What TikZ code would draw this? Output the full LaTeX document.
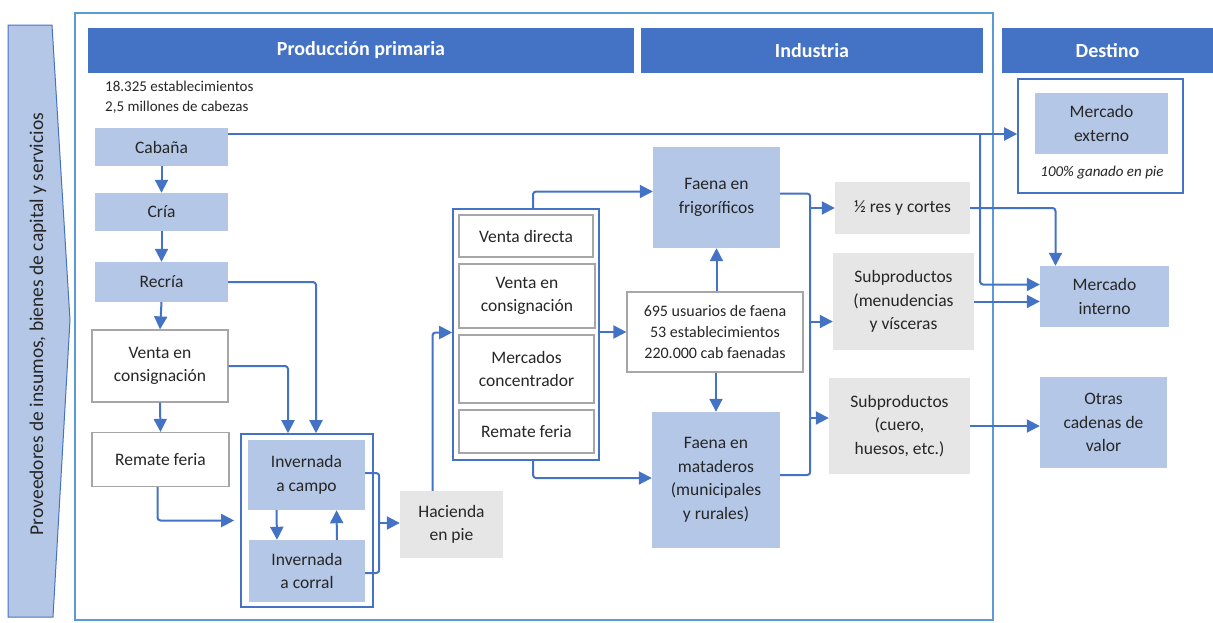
\documentclass[tikz,border=0pt]{standalone}
\usepackage{fontspec}
\setmainfont{Carlito}
\usetikzlibrary{arrows.meta}
\definecolor{azuloscuro}{HTML}{4472C4}
\definecolor{azulclaro}{HTML}{B4C7E7}
\definecolor{grisclaro}{HTML}{E7E6E6}
\definecolor{marco}{HTML}{5B9BD5}
\definecolor{borde}{HTML}{A6A6A6}

\begin{document}
\begin{tikzpicture}[
    x=1pt, y=-1pt,
    every node/.style={align=center, inner sep=2pt, text=black!85, font=\fontsize{17.5}{23.5}\selectfont},
    cabecera/.style={fill=azuloscuro, text=white, font=\fontsize{20}{24}\selectfont\bfseries, minimum height=45pt},
    azul/.style={fill=azulclaro},
    gris/.style={fill=grisclaro},
    blanco/.style={draw=borde, fill=white, line width=1.2pt},
    marcoazul/.style={draw=azuloscuro, fill=white, line width=1.6pt},
    linea/.style={draw=azuloscuro, line width=2pt, rounded corners=3pt},
    flecha/.style={linea, -{Triangle[length=13pt,width=13pt]}}
]
\useasboundingbox (0,0) rectangle (1213,622);
\draw[marco, line width=1.6pt] (75,13) rectangle (993,620);
\draw[draw=azuloscuro, fill=azulclaro, line width=1pt] (8,25) -- (52,25) -- (70,320) -- (53,617) -- (8,617) -- cycle;
\node[rotate=90, font=\fontsize{19.5}{22}\selectfont] (proveedores) at (38,324) {Proveedores de insumos, bienes de capital y servicios};

\node[cabecera, minimum width=546pt] (hprod) at (361,50.5) {Producción primaria};
\node[cabecera, minimum width=342pt] (hind) at (812,50.5) {Industria};
\node[cabecera, minimum width=211pt] (hdest) at (1107.5,50.5) {Destino};
\node[anchor=west, align=left, font=\fontsize{15}{20}\selectfont] (datos) at (103,97) {18.325 establecimientos\\2,5 millones de cabezas};

\node[azul, minimum width=133pt, minimum height=38pt] (cabana) at (161.5,147) {Cabaña};
\node[azul, minimum width=133pt, minimum height=38pt] (cria) at (161.5,212) {Cría};
\node[azul, minimum width=133pt, minimum height=40pt] (recria) at (161.5,282) {Recría};
\node[blanco, minimum width=136pt, minimum height=72pt] (venta1) at (160,366) {Venta en\\consignación};
\node[blanco, minimum width=137pt, minimum height=54pt] (remate1) at (160.5,459.5) {Remate feria};

\node[marcoazul, minimum width=132pt, minimum height=173pt] (invmarco) at (307,520.5) {};
\node[azul, minimum width=117pt, minimum height=70pt] (campo) at (306.5,475) {Invernada\\a campo};
\node[azul, minimum width=116pt, minimum height=62pt] (corral) at (307,571) {Invernada\\a corral};
\node[gris, minimum width=103pt, minimum height=67pt] (hacienda) at (451.5,524.5) {Hacienda\\en pie};

\node[marcoazul, minimum width=146pt, minimum height=251pt] (canales) at (526,334.5) {};
\node[blanco, minimum width=134pt, minimum height=42pt] (vdirecta) at (526,236) {Venta directa};
\node[blanco, minimum width=136pt, minimum height=64pt] (venta2) at (527,296) {Venta en\\consignación};
\node[blanco, minimum width=135pt, minimum height=68pt] (mercados) at (526.5,369) {Mercados\\concentrador};
\node[blanco, minimum width=135pt, minimum height=43pt] (remate2) at (526.5,431.5) {Remate feria};

\node[azul, minimum width=127pt, minimum height=101pt] (frigo) at (716.5,197.5) {Faena en\\frigoríficos};
\node[blanco, minimum width=176pt, minimum height=80pt, font=\fontsize{16}{21}\selectfont] (info) at (715,332) {695 usuarios de faena\\53 establecimientos\\220.000 cab faenadas};
\node[azul, minimum width=128pt, minimum height=136pt] (matad) at (716,480) {Faena en\\mataderos\\(municipales\\y rurales)};

\node[gris, minimum width=135pt, minimum height=52pt] (media) at (902.5,208) {½ res y cortes};
\node[gris, minimum width=141pt, minimum height=97pt] (menud) at (903.5,301.5) {Subproductos\\(menudencias\\y vísceras};
\node[gris, minimum width=141pt, minimum height=96pt] (cuero) at (899.5,426) {Subproductos\\(cuero,\\huesos, etc.)};

\node[marcoazul, minimum width=165pt, minimum height=114pt] (extmarco) at (1100.5,136) {};
\node[azul, minimum width=133pt, minimum height=61pt] (externo) at (1101.5,123.5) {Mercado\\externo};
\node[font=\fontsize{15}{18}\selectfont\itshape] (nota) at (1102,173) {100\% ganado en pie};
\node[azul, minimum width=129pt, minimum height=61pt] (interno) at (1104.5,296.5) {Mercado\\interno};
\node[azul, minimum width=127pt, minimum height=91pt] (otras) at (1103.5,422.5) {Otras\\cadenas de\\valor};

\draw[flecha] (cabana.south) -- (cria.north);
\draw[flecha] (cria.south) -- (recria.north);
\draw[flecha] (recria.south) -- (venta1.north);
\draw[flecha] (venta1.south) -- (remate1.north);
\draw[flecha] (recria.east) -| ([xshift=9pt]invmarco.north);
\draw[flecha] (venta1.east) -| ([xshift=-19pt]invmarco.north);
\draw[flecha, shorten >=6pt] ([xshift=-3pt]remate1.south) |- (invmarco.west);
\draw[flecha] ([xshift=-30pt]campo.south) -- ([xshift=-30pt]corral.north);
\draw[flecha] ([xshift=30pt]corral.north) -- ([xshift=30pt]campo.south);
\draw[linea] ([yshift=2pt]campo.east) -- ++(14,0) |- ([yshift=-2pt]corral.east);
\coordinate (invsal) at (379,523);
\draw[flecha] (invsal) -- (invsal -| hacienda.west);

\draw[flecha] ([xshift=-19pt]hacienda.north) |- ([yshift=2pt]canales.west);
\draw[flecha] ([xshift=7pt]canales.north) |- ([yshift=6pt]frigo.west);
\draw[flecha] (canales.east |- info.west) -- (info.west);
\draw[flecha] ([xshift=7pt]canales.south) |- ([yshift=2pt]matad.west);
\draw[flecha] (info.north -| frigo.south) -- (frigo.south);
\draw[flecha] (info.south -| matad.north) -- (matad.north);

\draw[linea] ([yshift=4pt]frigo.east) -- ++(30,0) |- ([yshift=5pt]matad.east);
\coordinate (frsal) at (810,0);
\coordinate (m1) at ([yshift=-20pt]menud.west);
\coordinate (m2) at ([yshift=8pt]cuero.west);
\draw[flecha] (frsal |- media.west) -- (media.west);
\draw[flecha] (frsal |- m1) -- (m1);
\draw[flecha] (frsal |- m2) -- (m2);

\coordinate (cabsal) at ([yshift=13pt]cabana.east);
\coordinate (bifur) at (980,0);
\draw[flecha] (cabsal) -- (cabsal -| extmarco.west);
\draw[flecha] (cabsal -| bifur) |- ([yshift=12pt]interno.west);
\draw[flecha] (media.east) -| ([xshift=-49pt]interno.north);
\draw[flecha] (menud.east) -- (menud.east -| interno.west);
\draw[flecha] (cuero.east) -- (cuero.east -| otras.west);
\end{tikzpicture}
\end{document}
